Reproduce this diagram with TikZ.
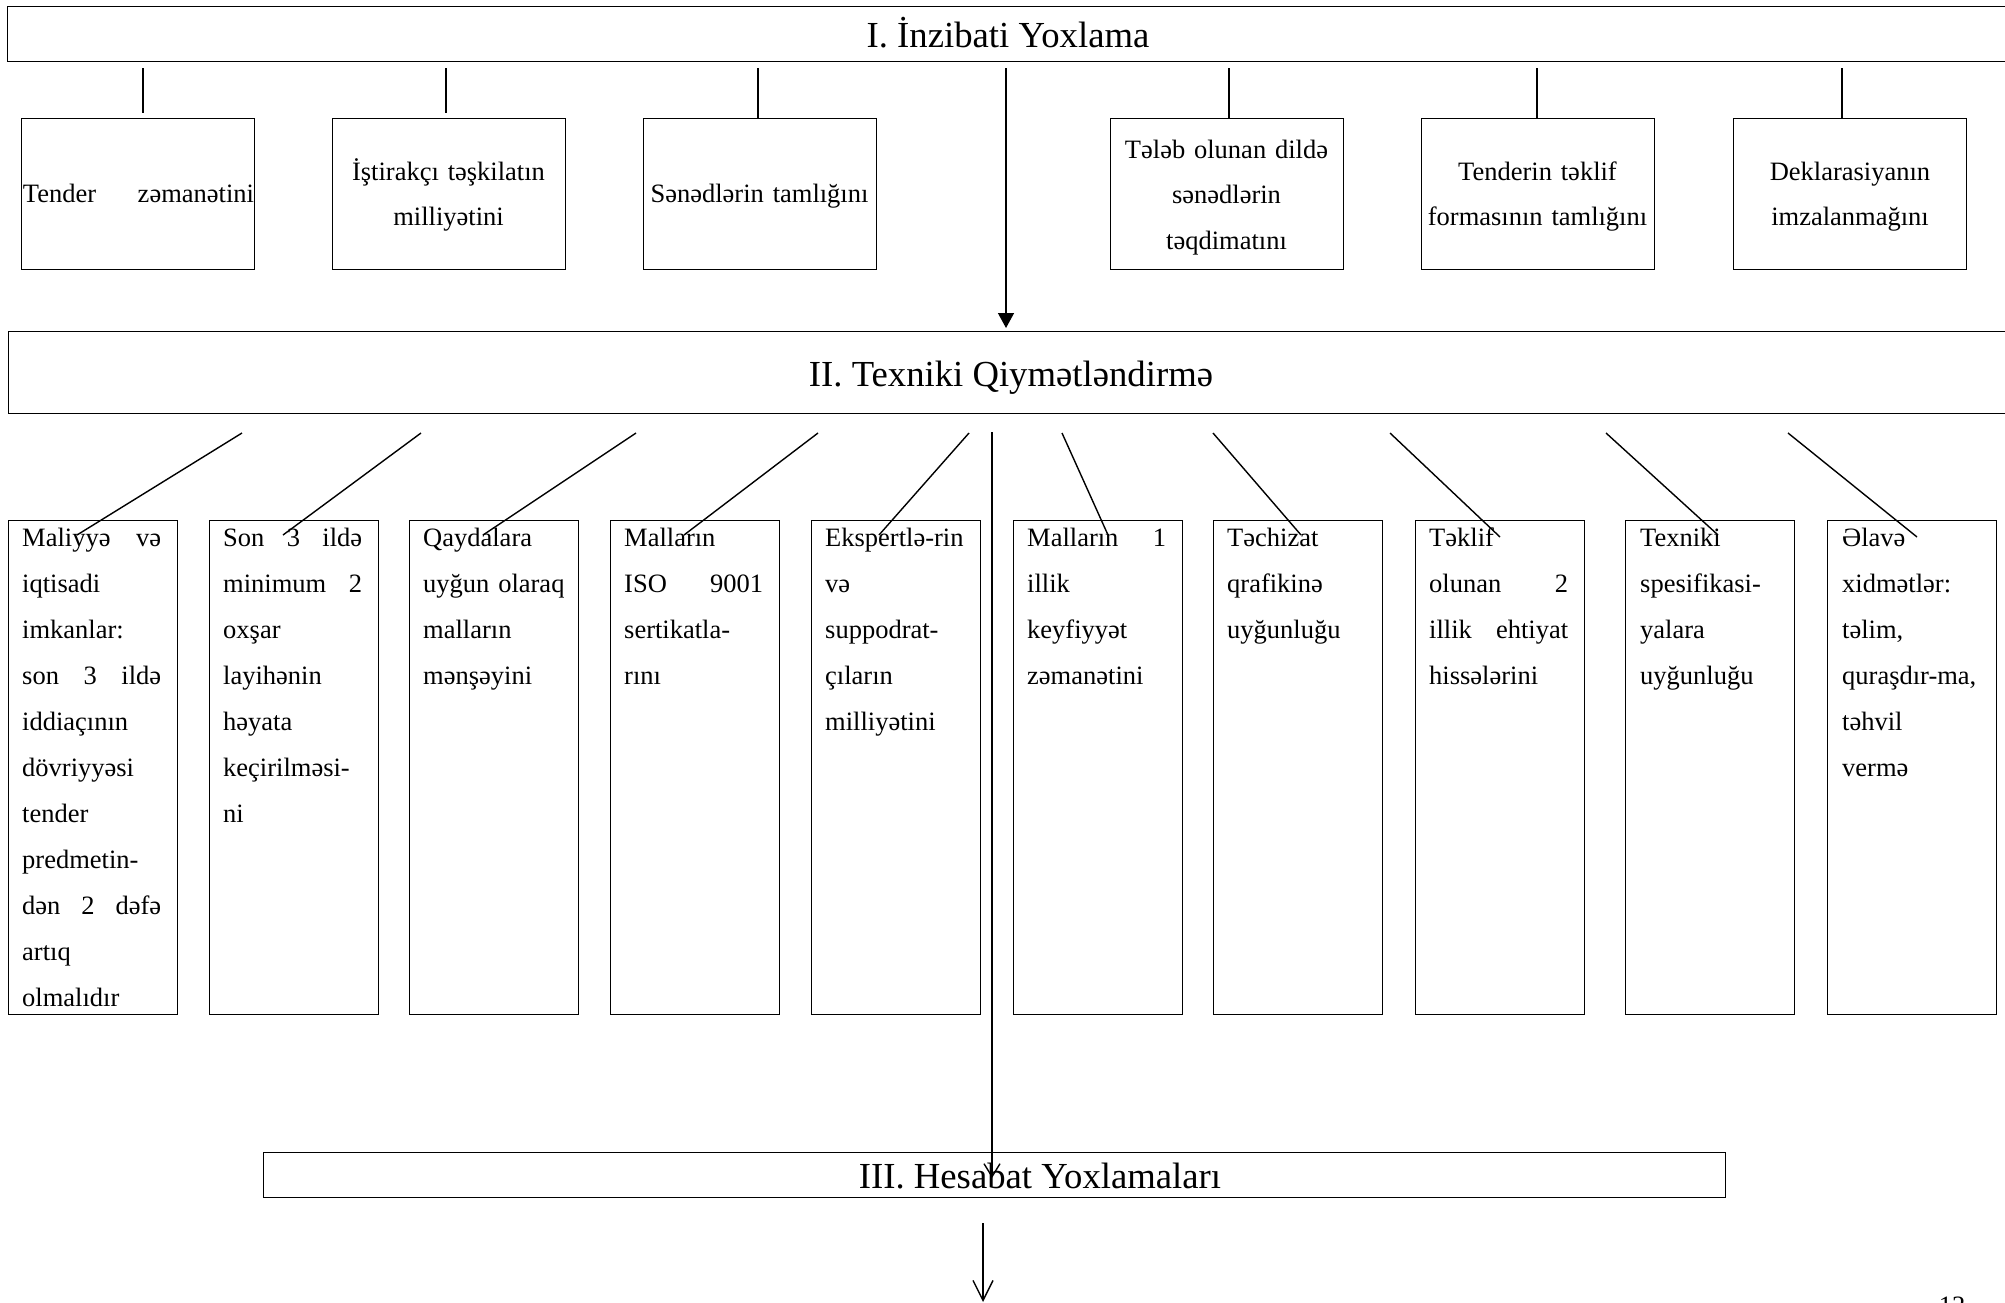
\documentclass[tikz,border=0pt]{standalone}
\usepackage{fontspec}
\setmainfont{Liberation Serif}
\usetikzlibrary{arrows.meta}
\newcommand\jl[2][139pt]{\makebox[#1][l]{#2}}
\newcommand\fst{\rule{0pt}{26pt}}
\begin{document}
\begin{tikzpicture}[x=1pt,y=-1pt,
  boxst/.style={draw,line width=1.4pt,inner sep=0pt,anchor=north west},
  ttl/.style={font=\fontsize{36.7}{40}\selectfont,inner sep=0pt,anchor=base},
  lowtxt/.style={anchor=north west,inner sep=0pt,text width=139pt,align=left,font=\fontsize{26.5}{46}\selectfont},
  toptxt/.style={anchor=north,inner sep=0pt,text width=229pt,align=center,font=\fontsize{26.5}{45.5}\selectfont},
  conn/.style={line width=1.4pt}]
\useasboundingbox (0,0) rectangle (2005,1302);
% big boxes
\node[boxst,minimum width=2005pt,minimum height=55pt] (tI) at (7,6) {};
\node[boxst,minimum width=2004pt,minimum height=82pt] (tII) at (8,331) {};
\node[boxst,minimum width=1462pt,minimum height=45pt] (tIII) at (263,1152) {};
\node[ttl] (tIt) at (1008,47) {I. İnzibati Yoxlama};
\node[ttl] (tIIt) at (1011,386) {II. Texniki Qiymətləndirmə};
\node[ttl] (tIIIt) at (1040,1188) {III. Hesabat Yoxlamaları};
% top small boxes
\foreach \n/\x in {a1/21,a2/332,a3/643,a4/1110,a5/1421,a6/1733}
  \node[boxst,minimum width=233pt,minimum height=151pt] (\n) at (\x,118) {};
\node[toptxt] (a1t) at (137.5,176) {\fst\jl[231pt]{Tender\hfill zəmanətini}};
\node[toptxt] (a2t) at (448.5,154) {\fst İştirakçı təşkilatın\\milliyətini};
\node[toptxt] (a3t) at (759.5,176) {\fst Sənədlərin tamlığını};
\node[toptxt] (a4t) at (1226.5,132) {\fst Tələb olunan dildə\\sənədlərin\\təqdimatını};
\node[toptxt] (a5t) at (1537.5,154) {\fst Tenderin təklif\\formasının tamlığını};
\node[toptxt] (a6t) at (1850,154) {\fst Deklarasiyanın\\imzalanmağını};
% connectors from I
\foreach \i/\x/\yb in {1/143/113,2/446/113,3/758/118,4/1229/118,5/1537/118,6/1842/118}{
  \coordinate (u\i) at (\x,68);
  \coordinate (v\i) at (\x,\yb);
  \draw[conn] (u\i) -- (v\i);
}
% lower boxes
\foreach \n/\x in {b1/8,b2/209,b3/409,b4/610,b5/811,b6/1013,b7/1213,b8/1415,b9/1625,b10/1827}
  \node[boxst,minimum width=169pt,minimum height=494pt] (\n) at (\x,520) {};
\node[lowtxt] (b1t) at (22,520) {\fst\jl{Maliyyə\hfill və}\\iqtisadi\\imkanlar:\\\jl{son\hfill 3\hfill ildə}\\iddiaçının\\dövriyyəsi\\tender\\predmetin-\\\jl{dən\hfill 2\hfill dəfə}\\artıq\\olmalıdır};
\node[lowtxt] (b2t) at (223,520) {\fst\jl{Son\hfill 3\hfill ildə}\\\jl{minimum\hfill 2}\\oxşar\\layihənin\\həyata\\\mbox{keçirilməsi-}\\ni};
\node[lowtxt] (b3t) at (423,520) {\fst Qaydalara\\\mbox{uyğun olaraq}\\malların\\mənşəyini};
\node[lowtxt] (b4t) at (624,520) {\fst Malların\\\jl{ISO\hfill 9001}\\\mbox{sertikatla-}\\rını};
\node[lowtxt] (b5t) at (825,520) {\fst\mbox{Ekspertlə-rin}\\və\\\mbox{suppodrat-}\\çıların\\milliyətini};
\node[lowtxt] (b6t) at (1027,520) {\fst\jl{Malların\hfill 1}\\illik\\keyfiyyət\\zəmanətini};
\node[lowtxt] (b7t) at (1227,520) {\fst Təchizat\\qrafikinə\\uyğunluğu};
\node[lowtxt] (b8t) at (1429,520) {\fst Təklif\\\jl{olunan\hfill 2}\\\jl{illik\hfill ehtiyat}\\hissələrini};
\node[lowtxt] (b9t) at (1640,520) {\fst Texniki\\\mbox{spesifikasi-}\\yalara\\uyğunluğu};
\node[lowtxt] (b10t) at (1842,520) {\fst Əlavə\\xidmətlər:\\təlim,\\\mbox{quraşdır-ma,}\\təhvil\\vermə};
% diagonal connectors from II
\foreach \i/\xa/\xb/\yb in {1/242/77/535,2/421/283/535,3/636/483/535,4/818/684/535,5/969/879/535,6/1062/1108/535,7/1213/1301/535,8/1390/1500/537,9/1606/1718/535,10/1788/1917/537}{
  \coordinate (p\i) at (\xa,433);
  \coordinate (q\i) at (\xb,\yb);
  \draw[conn] (p\i) -- (q\i);
}
% main arrows
\coordinate (m1s) at (1006,68);
\coordinate (m1e) at (1006,328);
\draw[conn,-{Triangle[length=15pt,width=16pt]}] (m1s) -- (m1e);
\coordinate (m2s) at (992,432);
\coordinate (m2e) at (992,1178);
\draw[conn,-{Straight Barb[length=13pt,width=16pt]}] (m2s) -- (m2e);
\coordinate (m3s) at (983,1223);
\coordinate (m3e) at (983,1302);
\draw[conn,-{Straight Barb[length=20pt,width=20pt]}] (m3s) -- (m3e);
% page number (cut off at the lower edge, as in the reference)
\node[anchor=base,inner sep=0pt,font=\fontsize{26.5}{30}\selectfont] (pg) at (1952,1314) {12};
\end{tikzpicture}
\end{document}
